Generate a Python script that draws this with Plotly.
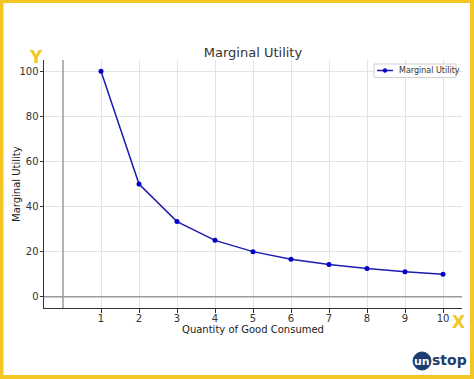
import plotly.graph_objects as go

quantity = [1, 2, 3, 4, 5, 6, 7, 8, 9, 10]
marginal_utility = [100, 50, 33.33, 25, 20, 16.67, 14.29, 12.5, 11.11, 10]
x_ticks = [1, 2, 3, 4, 5, 6, 7, 8, 9, 10]
y_ticks = [0, 20, 40, 60, 80, 100]
series_name = "Marginal Utility"

W, H = 474, 379
L, R, T, B = 44, 462, 60, 308

def px(x):
    return (x - L) / (R - L)

def py(y):
    return (B - y) / (B - T)

YEL = "#F4C623"
NAVY = "#1B3C6C"
LINE_C = "#1c1cb0"
MARK_C = "#0000c8"
FONT = "DejaVu Sans"

fig = go.Figure()
fig.add_trace(go.Scatter(
    x=quantity, y=marginal_utility, mode="lines+markers",
    name=series_name, showlegend=False,
    line=dict(color=LINE_C, width=1.5),
    marker=dict(color=MARK_C, size=5),
))

axis_common = dict(
    showgrid=True, gridcolor="#e3e3e3", gridwidth=1,
    showline=True, linecolor="#333333", linewidth=1,
    ticks="outside", ticklen=3.5, tickcolor="#333333", tickwidth=1,
    zeroline=False, tickfont=dict(family=FONT, size=10, color="#333333"),
    mirror=False, automargin=False,
)

fig.update_layout(
    width=W, height=H,
    margin=dict(l=L, r=W - R, t=T, b=H - B),
    paper_bgcolor="white", plot_bgcolor="white",
    font=dict(family=FONT, color="#333333"),
    title=dict(text="Marginal Utility", x=px(253), xref="paper", xanchor="center",
               y=1 - 52 / H, yanchor="middle", font=dict(family=FONT, size=13, color="#333333")),
    xaxis=dict(range=[-0.5, 10.5], tickvals=x_ticks, ticklabelstandoff=-3,
               title=dict(text="Quantity of Good Consumed", font=dict(family=FONT, size=10, color="#222222"), standoff=0),
               **axis_common),
    yaxis=dict(range=[-5, 105], tickvals=y_ticks, ticklabelstandoff=-1,
               **axis_common),
    showlegend=False,
)

shapes = []
# axis reference lines at x=0 and y=0
shapes.append(dict(type="line", xref="x", yref="paper", x0=0, x1=0, y0=0, y1=1,
                   line=dict(color="#9a9a9a", width=1.5)))
shapes.append(dict(type="line", xref="paper", yref="y", x0=0, x1=1, y0=0, y1=0,
                   line=dict(color="#9a9a9a", width=1.5)))
# legend box (drawn manually to match compact legend)
shapes.append(dict(type="rect", xref="paper", yref="paper",
                   x0=px(374), x1=px(456), y0=py(64), y1=py(77.5),
                   line=dict(color="#d0d0d0", width=1), fillcolor="white", layer="above"))
shapes.append(dict(type="line", xref="paper", yref="paper",
                   x0=px(377), x1=px(393), y0=py(70.5), y1=py(70.5),
                   line=dict(color=LINE_C, width=1.5), layer="above"))
shapes.append(dict(type="circle", xref="paper", yref="paper",
                   x0=px(383), x1=px(387), y0=py(68.5), y1=py(72.5),
                   line=dict(color=MARK_C, width=0.5), fillcolor=MARK_C, layer="above"))
# yellow frame
shapes.append(dict(type="rect", xref="paper", yref="paper",
                   x0=px(1.5), x1=px(472), y0=py(1), y1=py(377),
                   line=dict(color=YEL, width=4), fillcolor="rgba(0,0,0,0)", layer="above"))
# logo circle
shapes.append(dict(type="circle", xref="paper", yref="paper",
                   x0=px(413), x1=px(431), y0=py(352), y1=py(370),
                   line=dict(color=NAVY, width=1), fillcolor=NAVY, layer="above"))
fig.update_layout(shapes=shapes)

annotations = [
    dict(text="Marginal Utility", x=px(16), y=py(184), xref="paper", yref="paper", showarrow=False,
         textangle=-90, font=dict(family=FONT, size=10, color="#222222"),
         xanchor="center", yanchor="middle"),
    dict(text=series_name, x=px(397), y=py(70.5), xref="paper", yref="paper", showarrow=False,
         font=dict(family=FONT, size=8, color="#333333"), xanchor="left", yanchor="middle"),
    dict(text="<b>Y</b>", x=px(36), y=py(57), xref="paper", yref="paper", showarrow=False,
         font=dict(family=FONT, size=17, color=YEL), xanchor="center", yanchor="middle"),
    dict(text="<b>X</b>", x=px(458), y=py(322), xref="paper", yref="paper", showarrow=False,
         font=dict(family=FONT, size=17, color=YEL), xanchor="center", yanchor="middle"),
    dict(text="<b>un</b>", x=px(422), y=py(361), xref="paper", yref="paper", showarrow=False,
         font=dict(family=FONT, size=11, color="white"), xanchor="center", yanchor="middle"),
    dict(text="<b>stop</b>", x=px(430), y=py(360), xref="paper", yref="paper", showarrow=False,
         font=dict(family=FONT, size=14, color=NAVY), xanchor="left", yanchor="middle"),
]
fig.update_layout(annotations=annotations)

fig.write_html(
    "out.html",
    config={"displayModeBar": False},
    post_script="document.body.style.margin='0';document.body.style.padding='0';"
                "document.documentElement.style.overflow='hidden';document.body.style.overflow='hidden';",
)
